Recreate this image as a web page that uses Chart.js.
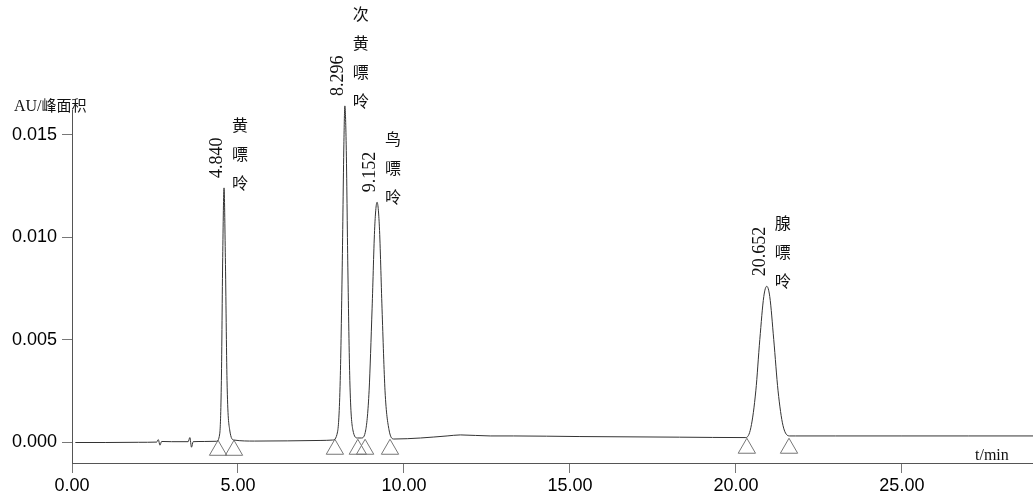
<!DOCTYPE html>
<html>
<head>
<meta charset="utf-8">
<script src="https://cdn.jsdelivr.net/npm/chart.js@4.4.1/dist/chart.umd.min.js"></script>
<style>
  body { margin: 0; background: #fff; }
</style>
</head>
<body>
<canvas id="chrom" width="1033" height="500"></canvas>
<script>
// trace (t in min, signal in AU)
const times = [
  0.1, 1.0, 2.0, 2.55, 2.60, 2.65, 2.70, 3.0, 3.50, 3.55, 3.60, 3.65, 4.0,
  4.35, 4.45, 4.50, 4.54, 4.58, 4.62, 4.67, 4.75, 4.88, 5.5, 6.5, 7.5,
  7.85, 8.00, 8.08, 8.14, 8.19, 8.22, 8.26, 8.31, 8.37, 8.46, 8.60,
  8.72, 8.85, 8.95, 9.04, 9.12, 9.19, 9.26, 9.34, 9.43, 9.55, 9.70,
  10.5, 11.3, 11.7, 12.6, 13.3, 15.3, 18.3,
  20.30, 20.45, 20.60, 20.72, 20.84, 20.93, 21.02, 21.14, 21.27, 21.42, 21.62, 21.8,
  23.0, 25.0, 27.0, 29.0
];
const signal = [
  -0.00002, -0.00002, -0.00001, 0.0, 0.00012, -0.00015, 0.00003, 0.00002, 0.00002, 0.00022, -0.00025, 0.00002, 0.00003,
  0.00004, 0.0004, 0.003, 0.009, 0.0124, 0.009, 0.003, 0.0006, 0.0001, 0.00005, 0.00006, 0.00008,
  0.0001, 0.0005, 0.003, 0.0085, 0.0145, 0.0164, 0.0145, 0.0085, 0.003, 0.0006, 0.0002,
  0.0002, 0.0006, 0.0025, 0.0065, 0.0105, 0.0117, 0.0105, 0.0065, 0.0025, 0.0006, 0.00015,
  0.0002, 0.0003, 0.00035, 0.0003, 0.0003, 0.00027, 0.00024,
  0.00022, 0.0007, 0.0025, 0.005, 0.0071, 0.0076, 0.0071, 0.005, 0.0025, 0.0008, 0.0003, 0.0003,
  0.0003, 0.0003, 0.0003, 0.0003
];

// integration markers (triangles) under the peaks
const markTimes = [4.40, 4.88, 7.92, 8.61, 8.83, 9.58, 20.33, 21.60];
const markLevels = [-0.0004, -0.0004, -0.00035, -0.00035, -0.00035, -0.00035, -0.0003, -0.0003];

// peak annotations
const peakTimes = [4.58, 8.22, 9.19, 20.93];
const peakTops = [0.0124, 0.0164, 0.0117, 0.0076];
const peakLabels = ["4.840", "8.296", "9.152", "20.652"];
const peakNames = ["黄嘌呤", "次黄嘌呤", "鸟嘌呤", "腺嘌呤"];

const xTicks = [0, 5, 10, 15, 20, 25];
const yTicks = [0, 0.005, 0.010, 0.015];

const serif = "'Liberation Serif', serif";
const cjk = "'Noto Sans CJK SC', sans-serif";

// text on the peaks + axis titles
const peakText = {
  id: "peakText",
  afterDatasetsDraw(chart) {
    const ctx = chart.ctx;
    const xs = chart.scales.x;
    const ys = chart.scales.y;
    ctx.save();
    ctx.fillStyle = "#111";
    peakTimes.forEach((t, i) => {
      const px = xs.getPixelForValue(t);
      const py = ys.getPixelForValue(peakTops[i]);

      // retention time, rotated
      ctx.save();
      ctx.translate(px - 7, py - 10);
      ctx.rotate(-Math.PI / 2);
      ctx.font = "18px " + serif;
      ctx.textAlign = "left";
      ctx.textBaseline = "middle";
      ctx.fillText(peakLabels[i], 0, 0);
      ctx.restore();

      // compound name, one char per line
      const chars = Array.from(peakNames[i]);
      ctx.font = "16px " + cjk;
      ctx.textAlign = "center";
      ctx.textBaseline = "middle";
      chars.forEach((c, j) => {
        const cy = py - 5 - (chars.length - 1 - j) * 29;
        ctx.fillText(c, px + 16, cy);
      });
    });

    // axis titles
    ctx.textAlign = "left";
    ctx.textBaseline = "alphabetic";
    ctx.font = "16px " + serif;
    ctx.fillText("AU/", 14, 111);
    const w = ctx.measureText("AU/").width;
    ctx.font = "15px " + cjk;
    ctx.fillText("峰面积", 14 + w, 111);
    ctx.font = "16px " + serif;
    ctx.fillText("t/min", 975, 460);
    ctx.restore();
  }
};

new Chart(document.getElementById("chrom"), {
  type: "line",
  data: {
    datasets: [
      {
        data: times.map((t, i) => ({ x: t, y: signal[i] })),
        borderColor: "#333",
        borderWidth: 1,
        pointRadius: 0,
        cubicInterpolationMode: "monotone",
        clip: false
      },
      {
        type: "scatter",
        data: markTimes.map((t, i) => ({ x: t, y: markLevels[i] })),
        pointStyle: "triangle",
        pointRadius: 10,
        borderColor: "#777",
        borderWidth: 1,
        backgroundColor: "rgba(0,0,0,0)",
        showLine: false
      }
    ]
  },
  options: {
    responsive: false,
    animation: false,
    devicePixelRatio: 1,
    layout: { autoPadding: false, padding: { top: 110, right: 0, left: 0, bottom: 0 } },
    plugins: { legend: { display: false }, tooltip: { enabled: false } },
    scales: {
      x: {
        type: "linear",
        min: 0,
        max: 28.95,
        afterFit(s) { s.height = 37; s.paddingRight = 0; s.paddingLeft = 0; },
        afterBuildTicks(s) { s.ticks = xTicks.map(v => ({ value: v })); },
        border: { display: true, color: "#555", width: 1 },
        grid: { drawOnChartArea: false, drawTicks: true, tickLength: 10, color: "#777" },
        ticks: {
          color: "#000",
          padding: 2,
          maxRotation: 0,
          font: { family: "'Liberation Sans', Arial, sans-serif", size: 18 },
          callback: v => v.toFixed(2)
        }
      },
      y: {
        min: -0.00102,
        max: 0.0162,
        afterFit(s) { s.width = 72; },
        afterBuildTicks(s) { s.ticks = yTicks.map(v => ({ value: v })); },
        border: { display: true, color: "#555", width: 1 },
        grid: { drawOnChartArea: false, drawTicks: true, tickLength: 10, color: "#777" },
        ticks: {
          color: "#000",
          padding: 5,
          font: { family: "'Liberation Sans', Arial, sans-serif", size: 18 },
          callback: v => v.toFixed(3)
        }
      }
    }
  },
  plugins: [peakText]
});
</script>
</body>
</html>
